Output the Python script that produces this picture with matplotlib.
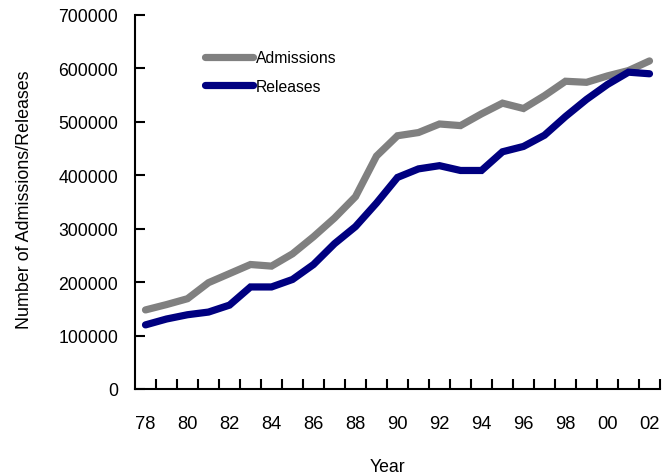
import matplotlib.pyplot as plt
import numpy as np

# Data
years = list(range(1978, 2003))
admissions = [148000, 158000, 169000, 199000, 216000, 233000, 230000, 253000,
              285000, 320000, 360000, 436000, 474000, 480000, 496000, 493000,
              515000, 535000, 525000, 549000, 576000, 574000, 586000, 596000,
              614000]
releases = [120000, 131000, 139000, 144000, 157000, 191000, 191000, 205000,
            233000, 272000, 304000, 348000, 396000, 412000, 418000, 409000,
            409000, 444000, 454000, 475000, 510000, 542000, 570000, 593000,
            590000]
year_labels = ['78', '80', '82', '84', '86', '88', '90', '92', '94', '96',
               '98', '00', '02']

plt.rcParams['font.family'] = ['Liberation Sans', 'DejaVu Sans']

fig = plt.figure(figsize=(6.62, 4.77), dpi=100)
ax = fig.add_axes([135 / 662, 87 / 477, 525 / 662, 374 / 477])

ax.plot(years, admissions, color='#808080', lw=5.2, solid_capstyle='round',
        solid_joinstyle='miter', label='Admissions')
ax.plot(years, releases, color='#000080', lw=5.2, solid_capstyle='round',
        solid_joinstyle='miter', label='Releases')

ax.set_xlim(1977.5, 2002.5)
ax.set_ylim(0, 700000)

# category-style x axis: ticks between years, labels on every other year
ax.set_xticks(np.arange(1978.5, 2002.6, 1))
ax.set_xticklabels([])
ax.set_xticks(years[::2], minor=True)
ax.set_xticklabels(year_labels, minor=True)
ax.tick_params(axis='x', which='major', direction='in', length=7, width=1.5)
ax.tick_params(axis='x', which='minor', length=0, pad=19, labelsize=13.2)

ax.set_yticks(range(0, 700001, 100000))
ax.set_yticklabels([str(v) for v in range(0, 700001, 100000)])
ax.tick_params(axis='y', direction='in', length=7, width=1.5, pad=12,
               labelsize=12.7)

for side in ['top', 'right']:
    ax.spines[side].set_visible(False)
for side in ['left', 'bottom']:
    ax.spines[side].set_linewidth(1.5)

ax.set_ylabel('Number of Admissions/Releases', fontsize=12.9)
ax.yaxis.set_label_coords(-0.194, 0.51)
ax.set_xlabel('Year', fontsize=12.7)
ax.xaxis.set_label_coords(0.48, -0.184)

ax.legend(loc='upper left', bbox_to_anchor=(0.133, 0.906), frameon=False,
          fontsize=11.3, handlelength=3.06, handletextpad=0.2,
          labelspacing=0.86, borderpad=0, borderaxespad=0)

fig.savefig('out.png', dpi=100)
